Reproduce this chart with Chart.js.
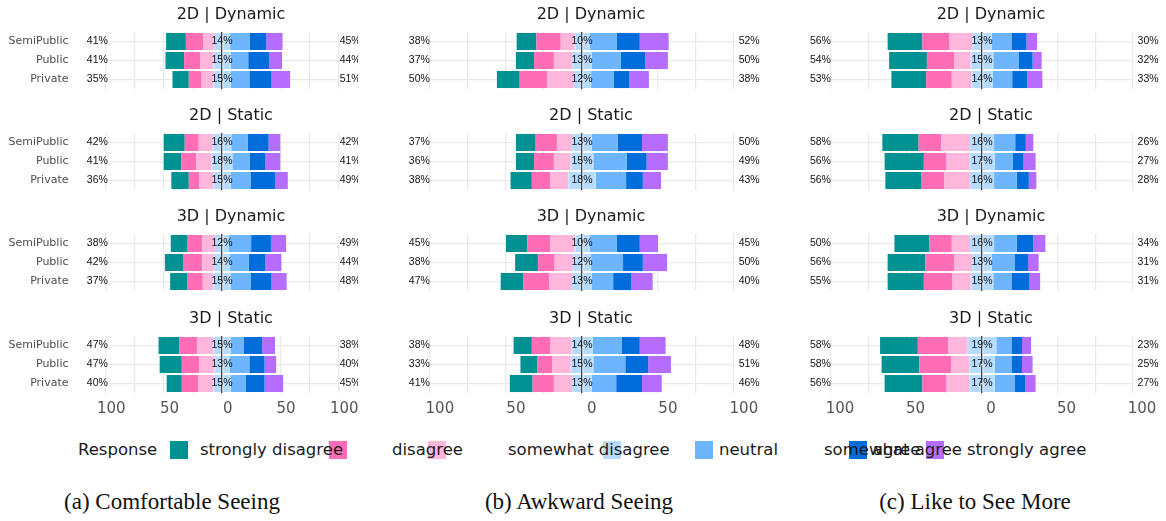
<!DOCTYPE html>
<html>
<head>
<meta charset="utf-8">
<script src="https://cdn.jsdelivr.net/npm/chart.js@4.4.1/dist/chart.umd.min.js"></script>
<style>
  html, body { margin: 0; padding: 0; background: #fff; }
  #stage { position: relative; width: 1166px; height: 521px; overflow: hidden; background: #fff; }
  #stage canvas { position: absolute; }
  .lg { position: absolute; font-family: "DejaVu Sans"; font-size: 16.5px; line-height: 1; color: #1a1a1a; white-space: nowrap; }
  .sw { position: absolute; width: 18px; height: 18px; }
  .cap { position: absolute; font-family: "Liberation Serif"; font-size: 23px; line-height: 23px; color: #111; white-space: nowrap; transform: translateX(-50%); }
</style>
</head>
<body>
<div id="stage"></div>
<script>
// ---- response scale, groups, facets ----
const responseLevels = ['strongly disagree', 'disagree', 'somewhat disagree', 'neutral', 'somewhat agree', 'agree', 'strongly agree'];
const levelColors = ['#009292', '#ff6db6', '#ffb6db', '#b6dbff', '#6db6ff', '#006ddb', '#b66dff'];
const groups = ['SemiPublic', 'Public', 'Private'];
const facetTitles = ['2D | Dynamic', '2D | Static', '3D | Dynamic', '3D | Static'];
const panelCaptions = ['(a) Comfortable Seeing', '(b) Awkward Seeing', '(c) Like to See More'];
const axisTicks = [-100, -50, 0, 50, 100];

// ---- percentages per group, in responseLevels order (rows: SemiPublic, Public, Private) ----
const comfortable2DDynamic = [[17, 15, 9, 14, 17, 14, 14], [16, 14, 11, 15, 15, 18, 11], [14, 11, 10, 15, 16, 19, 16]];
const comfortable2DStatic  = [[18, 12, 12, 16, 14, 18, 10], [15, 13, 13, 18, 15, 13, 13], [15, 9, 12, 15, 17, 21, 11]];
const comfortable3DDynamic = [[14, 13, 11, 12, 19, 17, 13], [16, 16, 10, 14, 16, 14, 14], [15, 13, 9, 15, 17, 18, 13]];
const comfortable3DStatic  = [[18, 15, 14, 15, 11, 16, 11], [19, 15, 13, 13, 17, 13, 10], [13, 14, 13, 15, 13, 16, 16]];

const awkward2DDynamic = [[13, 16, 9, 10, 18, 15, 19], [12, 13, 12, 13, 19, 16, 15], [15, 18, 17, 12, 15, 10, 13]];
const awkward2DStatic  = [[13, 14, 10, 13, 17, 16, 17], [12, 13, 11, 15, 22, 13, 14], [14, 12, 12, 18, 20, 11, 12]];
const awkward3DDynamic = [[14, 15, 16, 10, 18, 15, 12], [15, 11, 12, 12, 21, 13, 16], [15, 17, 15, 13, 14, 12, 14]];
const awkward3DStatic  = [[12, 12, 14, 14, 19, 12, 17], [11, 10, 12, 15, 21, 15, 15], [15, 14, 12, 13, 16, 17, 13]];

const likeMore2DDynamic = [[23, 18, 15, 13, 13, 10, 7], [25, 18, 11, 15, 17, 9, 6], [23, 17, 13, 14, 13, 10, 10]];
const likeMore2DStatic  = [[24, 15, 19, 16, 14, 7, 5], [26, 15, 15, 17, 12, 7, 8], [24, 15, 17, 16, 15, 8, 5]];
const likeMore3DDynamic = [[23, 15, 12, 16, 15, 11, 8], [25, 19, 12, 13, 15, 9, 7], [24, 19, 12, 15, 12, 12, 7]];
const likeMore3DStatic  = [[25, 20, 13, 19, 10, 7, 6], [25, 21, 12, 17, 11, 7, 7], [25, 16, 15, 17, 13, 7, 7]];

const panelData = [
  [comfortable2DDynamic, comfortable2DStatic, comfortable3DDynamic, comfortable3DStatic],
  [awkward2DDynamic, awkward2DStatic, awkward3DDynamic, awkward3DStatic],
  [likeMore2DDynamic, likeMore2DStatic, likeMore3DDynamic, likeMore3DStatic]
];

// ---- page layout ----
const panelBoxes = [
  { left: 0,   width: 358, plotLeft: 105.5, plotRight: 338.5, groupLabels: true,  axisShift: 5 },
  { left: 395, width: 380, plotLeft: 430,   plotRight: 734,   groupLabels: false, axisShift: 6.5 },
  { left: 790, width: 376, plotLeft: 831,   plotRight: 1133,  groupLabels: false, axisShift: 6 }
];
const facetTops = [0, 101, 202, 304];
const TITLE_H = 32, PLOT_H = 57, AXIS_H = 30;
const LEFT_LABEL_AT = -107, RIGHT_LABEL_AT = 110;
const captionCenters = [172, 579, 975];
const legendSwatchLeft = [170, 329, 428, 603, 695, 849, 926];
const legendTextLeft = [200, 392, 508, 719, 824, 873, 967];

Chart.defaults.font.family = 'DejaVu Sans';
const stage = document.getElementById('stage');
const sum = a => a.reduce((s, v) => s + v, 0);
const GRID = '#e9e9e9';

function likertDatasets(rows) {
  const ds = [];
  const mk = (label, color, fn, seam) => ds.push({
    label, data: rows.map(fn), backgroundColor: color,
    // the two neutral halves get a same-colour edge so they meet without a seam at zero
    borderWidth: seam ? 1 : 0, borderColor: color, borderSkipped: false,
    stack: 'likert', barPercentage: 0.9, categoryPercentage: 1
  });
  // negative side stacks outward from zero: neutral half, somewhat disagree, disagree, strongly disagree
  mk(responseLevels[3], levelColors[3], r => -r[3] / 2, true);
  mk(responseLevels[2], levelColors[2], r => -r[2]);
  mk(responseLevels[1], levelColors[1], r => -r[1]);
  mk(responseLevels[0], levelColors[0], r => -r[0]);
  // positive side: neutral half, somewhat agree, agree, strongly agree
  mk(responseLevels[3], levelColors[3], r => r[3] / 2, true);
  mk(responseLevels[4], levelColors[4], r => r[4]);
  mk(responseLevels[5], levelColors[5], r => r[5]);
  mk(responseLevels[6], levelColors[6], r => r[6]);
  return ds;
}

function makeFacet(p, f) {
  const box = panelBoxes[p];
  const rows = panelData[p][f];
  const last = f === facetTitles.length - 1;
  const h = TITLE_H + PLOT_H + (last ? AXIS_H : 0);
  const cv = document.createElement('canvas');
  cv.width = box.width; cv.height = h;
  cv.style.left = box.left + 'px'; cv.style.top = facetTops[f] + 'px';
  cv.style.width = box.width + 'px'; cv.style.height = h + 'px';
  stage.appendChild(cv);

  const scales = {
    x: {
      type: 'linear', min: -100, max: 100, stacked: true,
      ticks: { display: false, stepSize: 25 },
      grid: { drawTicks: false, lineWidth: 1.3, color: c => (c.tick && c.tick.value === 0) ? '#333' : GRID },
      border: { display: false },
      afterFit: s => { s.height = 0; s.paddingLeft = 0; s.paddingRight = 0; }
    },
    y: {
      type: 'category', stacked: true, offset: true,
      grid: { offset: false, drawTicks: false, lineWidth: 1.3, color: GRID },
      border: { display: false },
      ticks: { display: box.groupLabels, padding: 37, color: '#4d4d4d', font: { size: 11, family: 'DejaVu Sans' } },
      afterFit: s => { s.width = box.plotLeft - box.left; s.paddingTop = 0; s.paddingBottom = 0; }
    }
  };
  if (last) {
    scales.x2 = {
      type: 'linear', position: 'bottom',
      min: -100 - box.axisShift, max: 100 - box.axisShift,
      grid: { display: false, drawTicks: false },
      border: { display: false },
      ticks: { color: '#555', padding: 7, maxRotation: 0, autoSkip: false,
               font: { size: 15, family: 'DejaVu Sans' }, callback: v => String(Math.abs(v)) },
      afterBuildTicks: s => { s.ticks = axisTicks.map(v => ({ value: v })); },
      afterFit: s => { s.height = AXIS_H; s.paddingLeft = 0; s.paddingRight = 0; }
    };
  }

  const facetText = {
    id: 'facetText',
    afterDatasetsDraw(chart) {
      const ctx = chart.ctx, xs = chart.scales.x, ys = chart.scales.y, area = chart.chartArea;
      ctx.save();
      ctx.font = '10.5px "Liberation Sans"';
      ctx.fillStyle = '#111';
      ctx.textAlign = 'center';
      ctx.textBaseline = 'middle';
      rows.forEach((r, i) => {
        const y = ys.getPixelForValue(i);
        ctx.fillText(sum(r.slice(0, 3)) + '%', xs.getPixelForValue(LEFT_LABEL_AT), y);
        ctx.fillText(r[3] + '%', xs.getPixelForValue(0), y);
        ctx.fillText(sum(r.slice(4)) + '%', xs.getPixelForValue(RIGHT_LABEL_AT), y);
      });
      ctx.font = '16px "DejaVu Sans"';
      ctx.fillStyle = '#1a1a1a';
      ctx.fillText(facetTitles[f], (area.left + area.right) / 2 + 9, area.top - 17);
      ctx.restore();
    }
  };

  new Chart(cv, {
    type: 'bar',
    data: { labels: groups, datasets: likertDatasets(rows) },
    options: {
      indexAxis: 'y', responsive: false, animation: false, events: [],
      layout: { padding: { top: TITLE_H, right: box.left + box.width - box.plotRight, left: 0, bottom: 0 } },
      plugins: { legend: { display: false }, tooltip: { enabled: false }, title: { display: false } },
      scales
    },
    plugins: [facetText]
  });
}

panelBoxes.forEach((_, p) => facetTitles.forEach((_, f) => makeFacet(p, f)));

// ---- legend ----
function addEl(cls, left, top, text, color) {
  const el = document.createElement('div');
  el.className = cls;
  el.style.left = left + 'px';
  el.style.top = top + 'px';
  if (text !== undefined) el.textContent = text;
  if (color) el.style.background = color;
  stage.appendChild(el);
}
levelColors.forEach((c, i) => addEl('sw', legendSwatchLeft[i], 441, undefined, c));
addEl('lg', 78, 442, 'Response');
responseLevels.forEach((t, i) => addEl('lg', legendTextLeft[i], 442, t));

// ---- captions ----
panelCaptions.forEach((t, i) => addEl('cap', captionCenters[i], 490, t));
</script>
</body>
</html>
